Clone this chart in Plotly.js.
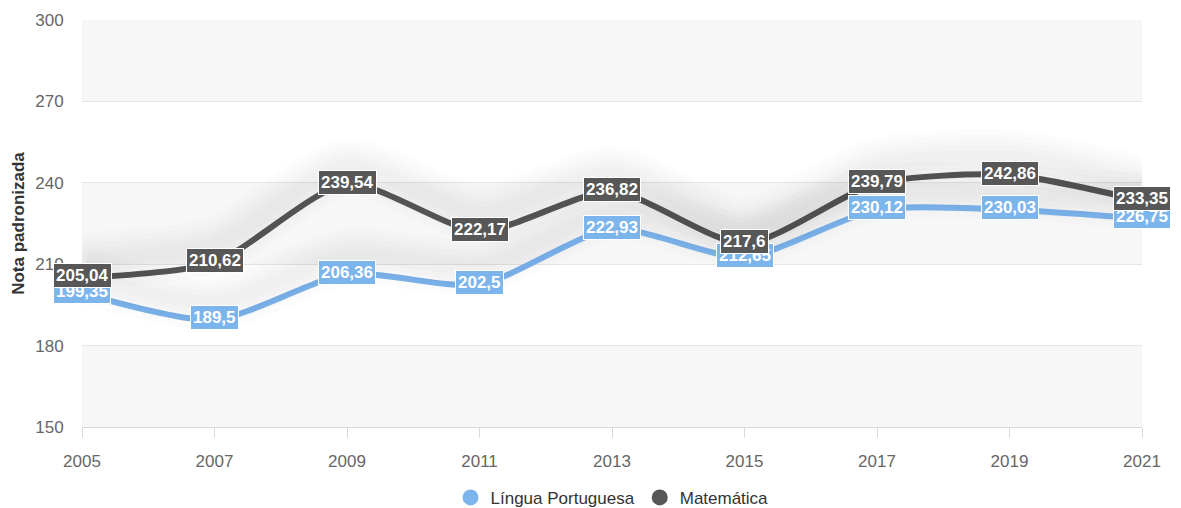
<!DOCTYPE html>
<html><head><meta charset="utf-8">
<script src="https://cdn.plot.ly/plotly-3.0.1.min.js"></script>
<style>html,body{margin:0;padding:0;background:#fff;}#chart{width:1181px;height:508px;}</style>
</head><body><div id="chart"></div>
<script>
const years = [2005, 2007, 2009, 2011, 2013, 2015, 2017, 2019, 2021];
const portugues = [199.35, 189.5, 206.36, 202.5, 222.93, 212.65, 230.12, 230.03, 226.75];
const matematica = [205.04, 210.62, 239.54, 222.17, 236.82, 217.6, 239.79, 242.86, 233.35];
const yTicks = [150, 180, 210, 240, 270, 300];
const seriesNames = ['Língua Portuguesa', 'Matemática'];
const colors = ['#7cb5ec', '#575757'];

const fmt = v => String(v).replace('.', ',');
const FONT = 'Liberation Sans, Arial, sans-serif';
const series = [portugues, matematica];

const traces = [];
// soft shadow under the lines (drawn on an offset overlay axis)
series.forEach((s) => {
  [56, 44, 34, 24, 14].forEach(w => {
    traces.push({x: years, y: s, xaxis: 'x', yaxis: 'y2', mode: 'lines',
      line: {shape: 'spline', smoothing: 0.7, width: w, color: 'rgba(0,0,0,0.010)'},
      hoverinfo: 'skip', showlegend: false});
  });
});
series.forEach((s, i) => {
  traces.push({x: years, y: s, mode: 'lines', name: seriesNames[i],
    line: {shape: 'spline', smoothing: 0.7, width: 6, color: colors[i]},
    showlegend: false});
});
series.forEach((s, i) => {
  traces.push({x: [null], y: [null], mode: 'markers', name: seriesNames[i],
    marker: {symbol: 'circle', size: 18, color: colors[i]}, showlegend: true});
});

const annotations = [];
series.forEach((s, i) => {
  s.forEach((v, j) => {
    annotations.push({x: years[j], y: v, xref: 'x', yref: 'y', text: '<b>' + fmt(v) + '</b>',
      showarrow: false, yshift: 2,
      font: {family: FONT, size: 17, color: '#ffffff'},
      bgcolor: colors[i], bordercolor: '#ffffff', borderwidth: 1, borderpad: 2});
  });
});

const shapes = [];
for (let k = 0; k < yTicks.length - 1; k += 2) {
  shapes.push({type: 'rect', xref: 'paper', yref: 'y', x0: 0, x1: 1,
    y0: yTicks[k], y1: yTicks[k + 1], fillcolor: '#f7f7f7', line: {width: 0}, layer: 'below'});
}

const layout = {
  width: 1181, height: 508,
  margin: {l: 82, r: 39, t: 20, b: 81, autoexpand: false},
  paper_bgcolor: '#ffffff', plot_bgcolor: '#ffffff',
  font: {family: FONT, color: '#666666', size: 16},
  xaxis: {range: [2005, 2021], tickvals: years, ticktext: years.map(String),
    showgrid: false, zeroline: false, showline: true, linecolor: '#d9d9d9', linewidth: 1,
    ticks: 'outside', ticklen: 10, tickcolor: '#d9d9d9', ticklabelstandoff: 9,
    tickfont: {size: 17, color: '#666666'}},
  yaxis: {range: [150, 300], tickvals: yTicks, showgrid: true, gridcolor: '#e6e6e6',
    zeroline: false, showline: false, ticks: 'outside', ticklen: 14, tickcolor: 'rgba(0,0,0,0)',
    tickfont: {size: 17, color: '#666666'},
    title: {text: '<b>Nota padronizada</b>', font: {size: 17, color: '#333333'}, standoff: 6}},
  yaxis2: {overlaying: 'y', range: [143.5, 293.5], visible: false},
  legend: {orientation: 'h', x: 0.5, xanchor: 'center', y: -0.13, yanchor: 'top',
    font: {size: 17, color: '#333333'}, traceorder: 'normal'},
  shapes: shapes,
  annotations: annotations,
  hovermode: false
};

Plotly.newPlot('chart', traces, layout, {displayModeBar: false, staticPlot: true});
</script></body></html>
